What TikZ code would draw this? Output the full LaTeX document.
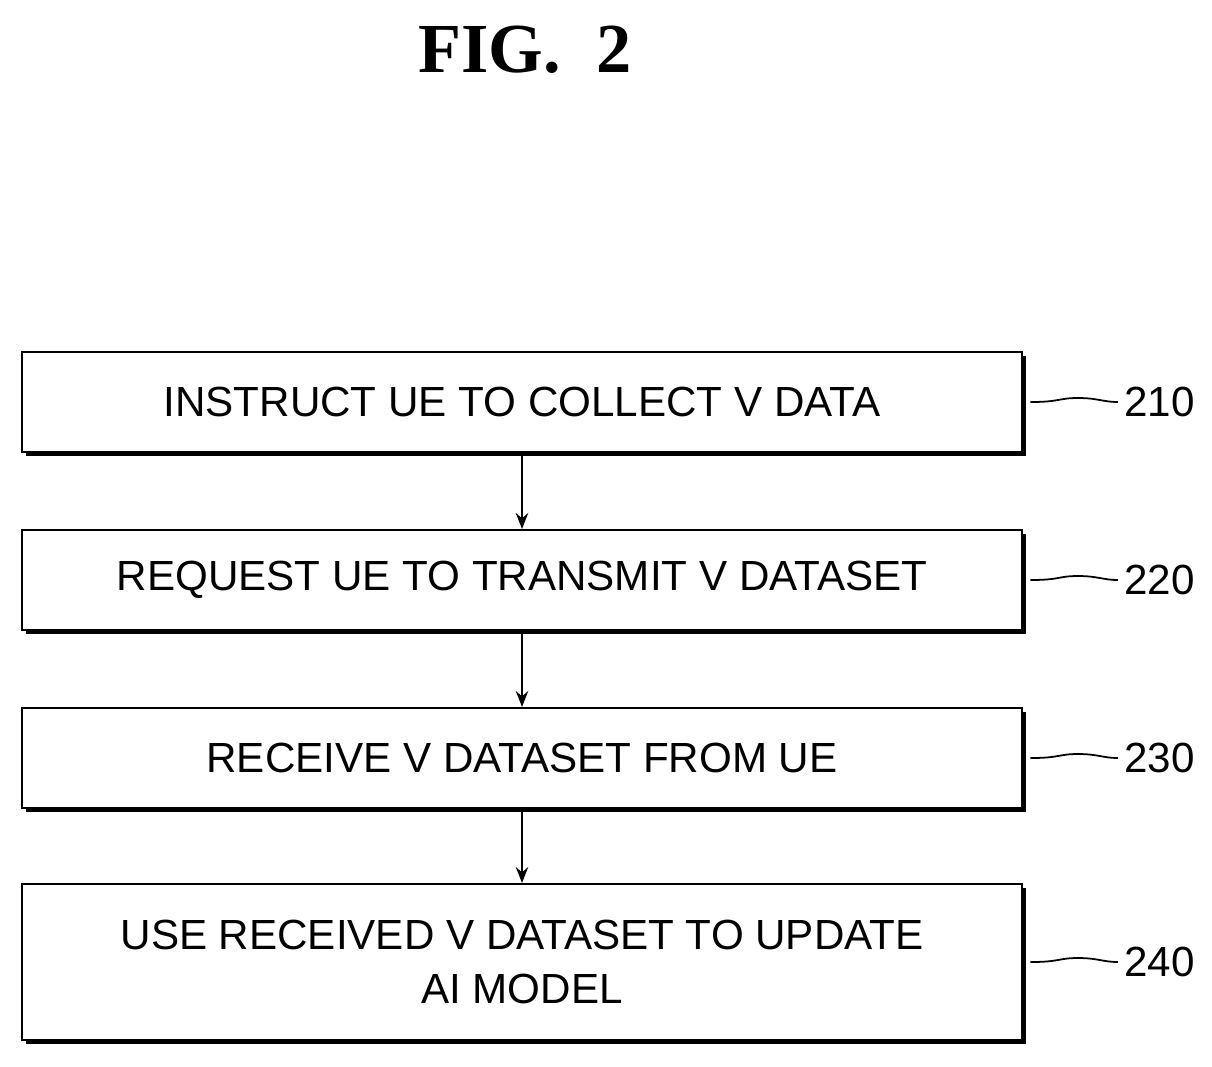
\documentclass[tikz,border=0pt]{standalone}
\usepackage{fontspec}
\setmainfont{Liberation Sans}
\newfontfamily\figfont{Liberation Serif}
\usetikzlibrary{positioning}
\usetikzlibrary{shadows}
\usetikzlibrary{arrows.meta}
\tikzset{stepbox/.style={draw, line width=1.2pt, fill=white, minimum width=20cm, align=center,
    font=\fontsize{24}{31}\selectfont,
    drop shadow={fill=black, opacity=1, shadow xshift=2.5pt, shadow yshift=-2.5pt}},
  flow/.style={-{Stealth[length=9pt,width=7pt]}, line width=1.3pt},
  ref/.style={font=\fontsize{24}{28}\selectfont, anchor=west}}
\begin{document}
\begin{tikzpicture}[x=0.02cm, y=-0.02cm]
    \useasboundingbox (0,0) rectangle (1212,1066);

    \node[font=\figfont\bfseries\fontsize{40}{44}\selectfont] (title) at (525,50) {FIG.\ \ 2};

    \node[stepbox, minimum height=2cm] (s210) at (522,402) {INSTRUCT UE TO COLLECT V DATA};
    \node[stepbox, minimum height=2cm] (s220) at (522,580) {REQUEST UE TO TRANSMIT V DATASET};
    \node[stepbox, minimum height=2cm] (s230) at (522,758) {RECEIVE V DATASET FROM UE};
    \node[stepbox, minimum height=3.12cm] (s240) at (522,962) {USE RECEIVED V DATASET TO UPDATE\\AI MODEL};

    \draw[flow] (s210) -- (s220);
    \draw[flow] (s220) -- (s230);
    \draw[flow] (s230) -- (s240);

    % reference numerals
    \foreach \s in {210,220,230,240} {
        \node[ref] (n\s) at ([xshift=1.9cm]s\s.east) {\s};
        \draw[line width=1pt] ([xshift=0.15cm]s\s.east) .. controls +(0.6cm,0) and +(-0.4cm,0) .. ([xshift=1.1cm,yshift=0.08cm]s\s.east)
            .. controls +(0.4cm,0) and +(-0.3cm,0) .. (n\s.west);
    }
\end{tikzpicture}
\end{document}
